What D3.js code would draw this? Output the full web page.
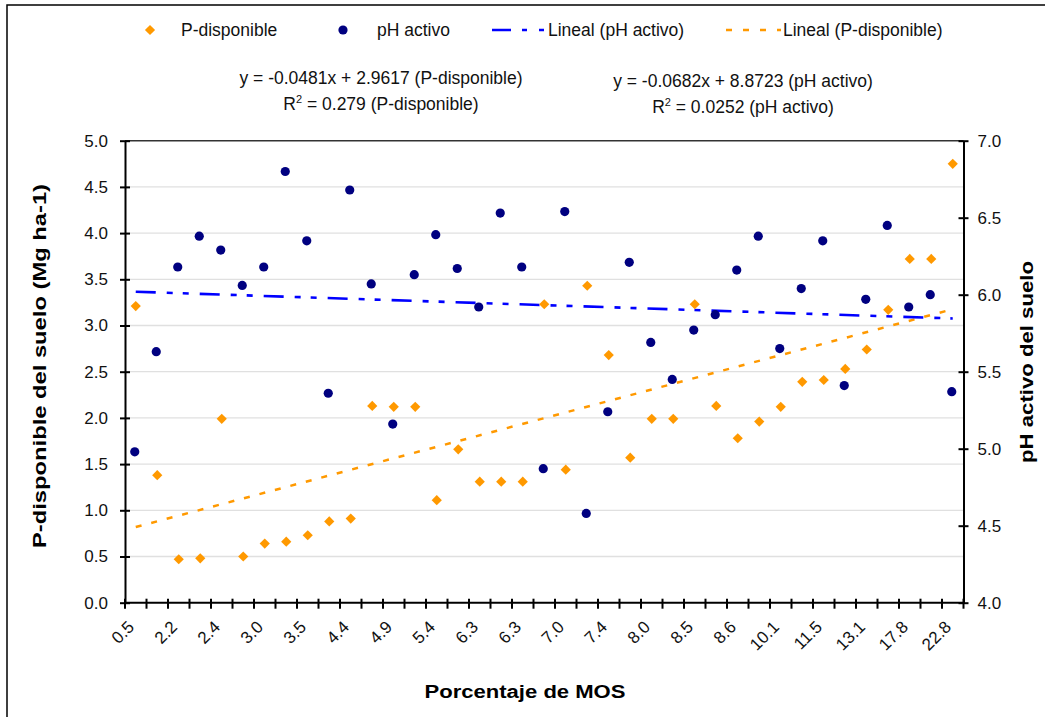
<!DOCTYPE html>
<meta charset="utf-8">
<head>
<style>
body {
  margin: 0;
  background: #fff;
  font-family: "Liberation Sans", Arial, sans-serif;
}
.axis path,
.axis line {
  stroke: #000;
  stroke-width: 2px;
  fill: none;
}
.axis text {
  font-family: "Liberation Sans", Arial, sans-serif;
  font-size: 17px;
  fill: #111;
}
.grid {
  stroke: #e0e0e0;
  stroke-width: 1.3px;
}
.title {
  font-weight: bold;
  font-size: 18px;
  fill: #000;
}
.legend text, .eq {
  font-size: 17.5px;
  fill: #111;
}
</style>
<script src="https://d3js.org/d3.v7.min.js"></script>
</head>
<body>
<div id="chart"></div>
<script>

////Data
var mosLabels = ["0.5", "2.2", "2.4", "3.0", "3.5", "4.4", "4.9", "5.4", "6.3", "6.3",
  "7.0", "7.4", "8.0", "8.5", "8.6", "10.1", "11.5", "13.1", "17.8", "22.8"];

var pDisp = [3.21, 1.38, 0.47, 0.48, 1.99, 0.50, 0.64, 0.66, 0.73, 0.88,
  0.91, 2.13, 2.12, 2.12, 1.11, 1.66, 1.31, 1.31, 1.31, 3.23,
  1.44, 3.43, 2.68, 1.57, 1.99, 1.99, 3.23, 2.13, 1.78, 1.96,
  2.12, 2.39, 2.41, 2.53, 2.74, 3.17, 3.72, 3.72, 4.75];

var phActivo = [4.98, 5.63, 6.18, 6.38, 6.29, 6.06, 6.18, 6.80, 6.35, 5.36,
  6.68, 6.07, 5.16, 6.13, 6.39, 6.17, 5.92, 6.53, 6.18, 4.87,
  6.54, 4.58, 5.24, 6.21, 5.69, 5.45, 5.77, 5.87, 6.16, 6.38,
  5.65, 6.04, 6.35, 5.41, 5.97, 6.45, 5.92, 6.00, 5.37];

var leftTicks = [0, 0.5, 1, 1.5, 2, 2.5, 3, 3.5, 4, 4.5, 5];
var rightTicks = [4, 4.5, 5, 5.5, 6, 6.5, 7];

var eqP = ["y = -0.0481x + 2.9617 (P-disponible)", "0.279 (P-disponible)"];
var eqPh = ["y = -0.0682x + 8.8723 (pH activo)", "0.0252 (pH activo)"];

var orange = "#ff9900", navy = "#000080", blue = "#0000ff";

var width = 1045, height = 717;
var plot = {left: 125, right: 963.5, top: 140.7, bottom: 602.7};

var svg = d3.select("#chart").append("svg")
  .attr("width", width)
  .attr("height", height);

//outer frame (only top and left edge visible)
svg.append("rect")
  .attr("x", 7).attr("y", 5)
  .attr("width", 1200).attr("height", 900)
  .attr("fill", "none")
  .attr("stroke", "#000")
  .attr("stroke-width", 1.5);

var n = pDisp.length;
var x = d3.scaleBand()
  .domain(d3.range(n))
  .range([plot.left, plot.right]);
var yP = d3.scaleLinear().domain([0, 5]).range([plot.bottom, plot.top]);
var yPh = d3.scaleLinear().domain([4, 7]).range([plot.bottom, plot.top]);
var cx = function(i) { return x(i) + x.bandwidth() / 2; };

////Gridlines
svg.selectAll(".grid")
  .data(leftTicks.filter(function(v) { return v > 0 && v < 5; }))
  .enter().append("line")
    .attr("class", "grid")
    .attr("x1", plot.left).attr("x2", plot.right)
    .attr("y1", function(d) { return yP(d); })
    .attr("y2", function(d) { return yP(d); });

// top border of plot area
svg.append("line")
  .attr("x1", plot.left).attr("x2", plot.right)
  .attr("y1", plot.top).attr("y2", plot.top)
  .attr("stroke", "#333").attr("stroke-width", 1.5);

////Axes
var gl = svg.append("g")
  .attr("class", "axis")
  .attr("transform", "translate(" + plot.left + ",0)")
  .call(d3.axisLeft(yP).tickValues(leftTicks).tickFormat(d3.format(".1f")).tickSizeOuter(0).tickSizeInner(5).tickPadding(12));
gl.selectAll(".tick line").attr("x1", 5);

var gr = svg.append("g")
  .attr("class", "axis")
  .attr("transform", "translate(" + plot.right + ",0)")
  .call(d3.axisRight(yPh).tickValues(rightTicks).tickFormat(d3.format(".1f")).tickSizeOuter(0).tickSizeInner(5).tickPadding(9));
gr.selectAll(".tick line").attr("x1", -5);

var gb = svg.append("g").attr("class", "axis");
gb.append("line")
  .attr("x1", plot.left).attr("x2", plot.right)
  .attr("y1", plot.bottom).attr("y2", plot.bottom);
gb.selectAll(".xtick")
  .data(d3.range(n + 1))
  .enter().append("line")
    .attr("x1", function(i) { return i < n ? x(i) : plot.right; })
    .attr("x2", function(i) { return i < n ? x(i) : plot.right; })
    .attr("y1", plot.bottom - 4)
    .attr("y2", plot.bottom + 6);
gb.selectAll(".xlab")
  .data(mosLabels)
  .enter().append("text")
    .attr("text-anchor", "end")
    .attr("transform", function(d, i) {
      return "translate(" + (cx(2 * i) - 9) + "," + (plot.bottom + 17) + ") rotate(-45)";
    })
    .attr("dy", "0.7em")
    .text(function(d) { return d; });

////Trendlines (least squares on category number, like Excel)
function fit(vals) {
  var xs = vals.map(function(d, i) { return i + 1; });
  var mx = d3.mean(xs), my = d3.mean(vals);
  var sxy = d3.sum(xs, function(v, i) { return (v - mx) * (vals[i] - my); });
  var sxx = d3.sum(xs, function(v) { return (v - mx) * (v - mx); });
  var b = sxy / sxx;
  return {b: b, a: my - b * mx};
}
var fp = fit(pDisp), fh = fit(phActivo);

svg.append("line")
  .attr("x1", cx(0)).attr("x2", cx(n - 1))
  .attr("y1", yP(fp.a + fp.b)).attr("y2", yP(fp.a + fp.b * n))
  .attr("stroke", orange).attr("stroke-width", 2.5)
  .attr("stroke-dasharray", "6,10");

svg.append("line")
  .attr("x1", cx(0)).attr("x2", cx(n - 1))
  .attr("y1", yPh(fh.a + fh.b)).attr("y2", yPh(fh.a + fh.b * n))
  .attr("stroke", blue).attr("stroke-width", 2.6)
  .attr("stroke-dasharray", "20,11,6,10,6,11");

////Points
var diamond = d3.symbol().type(d3.symbolSquare).size(52);

svg.selectAll(".pdot")
  .data(pDisp)
  .enter().append("path")
    .attr("d", diamond)
    .attr("fill", orange)
    .attr("transform", function(d, i) { return "translate(" + cx(i) + "," + yP(d) + ") rotate(45)"; });

svg.selectAll(".hdot")
  .data(phActivo)
  .enter().append("circle")
    .attr("cx", function(d, i) { return cx(i) - 1; })
    .attr("cy", function(d) { return yPh(d); })
    .attr("r", 4.6)
    .attr("fill", navy);

////Legend
var lg = svg.append("g").attr("class", "legend");
lg.append("path").attr("d", diamond).attr("fill", orange)
  .attr("transform", "translate(150,30) rotate(45)");
lg.append("text").attr("x", 181).attr("y", 36).text("P-disponible");
lg.append("circle").attr("cx", 343).attr("cy", 30).attr("r", 4.6).attr("fill", navy);
lg.append("text").attr("x", 377).attr("y", 36).text("pH activo");
lg.append("line").attr("x1", 492).attr("x2", 544).attr("y1", 30).attr("y2", 30)
  .attr("stroke", blue).attr("stroke-width", 2.6).attr("stroke-dasharray", "19,11,5,12,5,10");
lg.append("text").attr("x", 548).attr("y", 36).text("Lineal (pH activo)");
lg.append("line").attr("x1", 726).attr("x2", 781).attr("y1", 30).attr("y2", 30)
  .attr("stroke", orange).attr("stroke-width", 2.5).attr("stroke-dasharray", "6,11");
lg.append("text").attr("x", 783).attr("y", 36).text("Lineal (P-disponible)");

////Equations
function equation(lines, xc, y0) {
  svg.append("text").attr("class", "eq").attr("text-anchor", "middle")
    .attr("x", xc).attr("y", y0).text(lines[0]);
  var t = svg.append("text").attr("class", "eq").attr("text-anchor", "middle")
    .attr("x", xc).attr("y", y0 + 26);
  t.append("tspan").text("R");
  t.append("tspan").attr("dy", -7).style("font-size", "11px").text("2");
  t.append("tspan").attr("dy", 7).text(" = " + lines[1]);
}
equation(eqP, 381, 84);
equation(eqPh, 743, 87);

////Axis titles
svg.append("text").attr("class", "title")
  .attr("text-anchor", "middle")
  .attr("transform", "translate(46,366) rotate(-90)")
  .attr("textLength", 364).attr("lengthAdjust", "spacingAndGlyphs")
  .text("P-disponible del suelo (Mg ha-1)");

svg.append("text").attr("class", "title")
  .attr("text-anchor", "middle")
  .attr("transform", "translate(1033,362) rotate(-90)")
  .attr("textLength", 202).attr("lengthAdjust", "spacingAndGlyphs")
  .text("pH activo del suelo");

svg.append("text").attr("class", "title")
  .attr("text-anchor", "middle")
  .attr("x", 525).attr("y", 698)
  .attr("textLength", 201).attr("lengthAdjust", "spacingAndGlyphs")
  .text("Porcentaje de MOS");

</script>
</body>
</html>
